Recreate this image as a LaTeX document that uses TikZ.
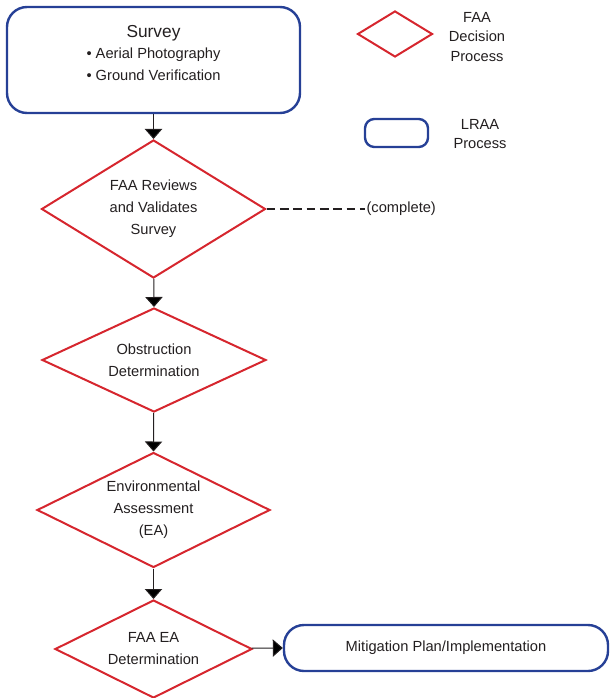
\documentclass[tikz,border=0pt]{standalone}
\usepackage{fontspec}
\setmainfont{Liberation Sans}
\usepackage{tikz}
\usetikzlibrary{arrows.meta,shapes,positioning,calc}
\definecolor{faared}{RGB}{214,38,46}
\definecolor{lraablue}{RGB}{38,64,150}
\definecolor{ink}{RGB}{35,31,32}
\begin{document}
\begin{tikzpicture}[x=0.75pt,y=-0.75pt,every node/.style={text=ink,font=\fontsize{11}{16.5}\selectfont,align=center},>={Triangle[width=13pt,length=7.5pt]},
  faa/.style={draw=faared,line width=1.5pt,diamond,inner sep=0pt},
  lraa/.style={draw=lraablue,line width=1.8pt,rectangle,rounded corners=15pt,inner sep=0pt},
  flow/.style={draw=ink,line width=0.75pt,->}]
\useasboundingbox (0,0) rectangle (610,698);
\node[lraa,minimum width=219.75pt,minimum height=79.5pt] (survey) at (153.5,60) {{\fontsize{13}{16}\selectfont Survey}\\[-1pt] \textbullet\ Aerial Photography\\ \textbullet\ Ground Verification\\[-6pt]\mbox{}};
\node[faa,aspect=1.62,minimum width=168pt,minimum height=103.5pt] (review) at (153.5,209) {FAA Reviews\\ and Validates\\ Survey};
\node[faa,aspect=2.15,minimum width=168pt,minimum height=78pt] (obstr) at (154,360) {Obstruction\\ Determination};
\node[faa,aspect=2,minimum width=174.75pt,minimum height=86.25pt] (envas) at (153.5,510) {Environmental\\ Assessment\\ (EA)};
\node[faa,aspect=2,minimum width=147.75pt,minimum height=73.5pt] (eadet) at (153.5,649) {FAA EA\\ Determination};
\node[lraa,minimum width=243pt,minimum height=34.5pt] (mitig) at (446,648) {Mitigation Plan/Implementation};
\node[anchor=west,inner sep=1pt] (complete) at (365,209) {(complete)};
% legend
\node[faa,minimum width=56.25pt,minimum height=34.5pt] (legfaa) at (395,34) {};
\node[font=\fontsize{11}{14.6}\selectfont] (legfaatext) at (477,37) {FAA\\ Decision\\ Process};
\node[lraa,rounded corners=7pt,minimum width=47.25pt,minimum height=21pt] (leglraa) at (396.5,133) {};
\node[font=\fontsize{11}{14.6}\selectfont] (leglraatext) at (480,134) {LRAA\\ Process};
% connectors
\path[flow] (survey) edge (review.north);
\path[flow] (review) edge (obstr.north);
\path[flow] (obstr) edge (envas.north);
\path[flow] (envas) edge (eadet.north);
\path[flow] (eadet) edge (mitig.west);
\draw[draw=ink,line width=1.5pt,dash pattern=on 6.5pt off 3.5pt] (review.east) -- (complete.west);
\end{tikzpicture}
\end{document}
